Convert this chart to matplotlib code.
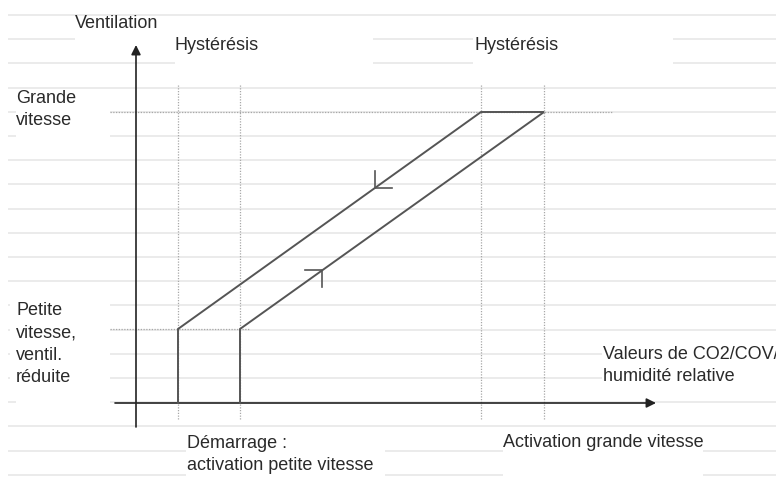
import matplotlib.pyplot as plt
from matplotlib.patches import Rectangle

plt.rcParams['font.family'] = ['Liberation Sans', 'DejaVu Sans']

# seuils de déclenchement (axe X) et niveaux de ventilation (axe Y), en px
seuils_descente = [178, 481]   # retour petite vitesse / début grande vitesse (descente)
seuils_montee = [240, 544]     # démarrage / activation grande vitesse (montée)
niveaux = [329, 112]           # petite vitesse, grande vitesse
y_zero = 403
x_axe = 136

# lignes de fond (papier réglé)
lignes_fond = [15, 39, 63, 88, 112, 136, 160, 184, 209, 233,
               257, 281, 305, 330, 354, 378, 402, 426, 451, 475]

# cadres blancs derrière les textes (x0, y0, x1, y1)
caches = [(75, 27, 373, 50), (175, 27, 373, 78), (473, 27, 673, 78),
          (16, 94, 110, 145), (10, 292, 110, 396), (16, 396, 110, 412),
          (186, 434, 385, 484), (503, 434, 703, 486), (602, 342, 776, 390)]

# position = ligne de base de la dernière ligne du texte
textes = [
    (75, 28, "Ventilation"),
    (175, 50, "Hystérésis"),
    (475, 50, "Hystérésis"),
    (16, 125, "Grande\nvitesse"),
    (16, 382, "Petite\nvitesse,\nventil.\nréduite"),
    (603, 381, "Valeurs de CO2/COV/\nhumidité relative"),
    (187, 470, "Démarrage :\nactivation petite vitesse"),
    (503, 447, "Activation grande vitesse"),
]

fig = plt.figure(figsize=(7.76, 4.93), dpi=100)
ax = fig.add_axes([0, 0, 1, 1])
ax.set_xlim(0, 776)
ax.set_ylim(493, 0)
ax.axis('off')

ax.hlines(lignes_fond, 8, 776, colors='#e9e9e9', lw=1.3, zorder=0)
for x0, y0, x1, y1 in caches:
    ax.add_patch(Rectangle((x0, y0), x1 - x0, y1 - y0, fc='white', ec='none', zorder=1))

# repères pointillés
for x in seuils_descente + seuils_montee:
    ax.plot([x, x], [85, 420], ls=(0, (1, 1.2)), color='#a8a8a8', lw=0.9, zorder=2)
ax.plot([110, 613], [niveaux[1]] * 2, ls=(0, (1, 1.2)), color='#a8a8a8', lw=0.9, zorder=2)
ax.plot([110, 250], [niveaux[0]] * 2, ls=(0, (1, 1.2)), color='#a8a8a8', lw=0.9, zorder=2)

# axes avec flèches
fleche = dict(arrowstyle='-|>', color='#222222', lw=1.2, mutation_scale=14, shrinkA=0, shrinkB=0)
ax.annotate('', xy=(x_axe, 45), xytext=(x_axe, 427), arrowprops=fleche, zorder=3)
ax.annotate('', xy=(656, y_zero), xytext=(115, y_zero), arrowprops=fleche, zorder=3)

# cycle d'hystérésis
xs = [seuils_descente[0], seuils_descente[0], seuils_descente[1],
      seuils_montee[1], seuils_montee[0], seuils_montee[0]]
ys = [y_zero, niveaux[0], niveaux[1], niveaux[1], niveaux[0], y_zero]
ax.plot(xs, ys, color='#555555', lw=1.4, zorder=4, solid_joinstyle='miter')

# petites flèches de sens sur les rampes
L = 17
t = 0.65
xd = seuils_descente[0] + t * (seuils_descente[1] - seuils_descente[0])
yd = niveaux[0] + t * (niveaux[1] - niveaux[0])
ax.plot([xd, xd, xd + L], [yd - L, yd, yd], color='#555555', lw=1.2, zorder=4)
t = 0.27
xm = seuils_montee[0] + t * (seuils_montee[1] - seuils_montee[0])
ym = niveaux[0] + t * (niveaux[1] - niveaux[0])
ax.plot([xm - L, xm, xm], [ym, ym, ym + L], color='#555555', lw=1.2, zorder=4)

for x, y, s in textes:
    ax.text(x, y, s, fontsize=13, color='#2a2a2a', ha='left', va='baseline',
            linespacing=1.42, zorder=5)

fig.savefig('out.png', dpi=100)
